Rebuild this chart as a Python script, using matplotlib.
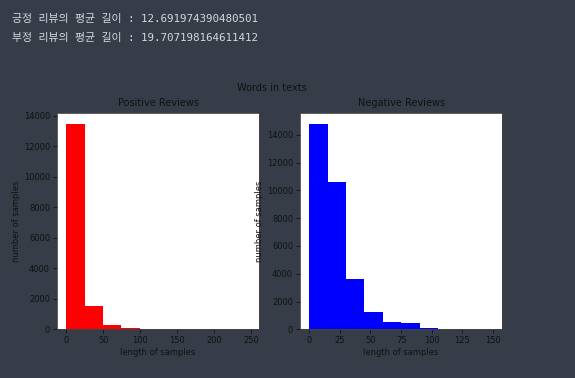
import numpy as np
import matplotlib
matplotlib.use("Agg")
import matplotlib.pyplot as plt

# printed notebook output above the chart
pos_mean = "12.691974390480501"
neg_mean = "19.707198164611412"

# histogram data (10 bins each)
pos_range = (0, 248)
pos_counts = [13500, 1550, 300, 100, 30, 12, 6, 3, 2, 1]
neg_range = (0, 150)
neg_counts = [14800, 10600, 3600, 1250, 520, 450, 100, 20, 5, 2]

bg = "#363d49"
txt = "#d3d8df"

fig = plt.figure(figsize=(5.75, 3.78), dpi=100)
fig.patch.set_facecolor(bg)

mono = ["DejaVu Sans Mono", "Noto Sans CJK KR"]
fig.text(12 / 575, 1 - 19 / 378, "긍정 리뷰의 평균 길이 : " + pos_mean,
         family=mono, fontsize=7.85, color=txt, va="center")
fig.text(12 / 575, 1 - 38 / 378, "부정 리뷰의 평균 길이 : " + neg_mean,
         family=mono, fontsize=7.85, color=txt, va="center")

fig.text(272 / 575, 1 - 88 / 378, "Words in texts", fontsize=7, color="#111111",
         ha="center", va="center")

ax1 = fig.add_axes([57 / 575, 48.7 / 378, 202 / 575, 216 / 378])
ax2 = fig.add_axes([300 / 575, 48.7 / 378, 202.3 / 575, 216 / 378])

for ax, rng, counts, col, title in [
    (ax1, pos_range, pos_counts, "red", "Positive Reviews"),
    (ax2, neg_range, neg_counts, "blue", "Negative Reviews"),
]:
    edges = np.linspace(rng[0], rng[1], len(counts) + 1)
    centers = (edges[:-1] + edges[1:]) / 2
    ax.hist(centers, bins=edges, weights=counts, color=col)
    ax.set_facecolor("white")
    ax.set_title(title, fontsize=7, color="#111111", pad=5)
    ax.set_xlabel("length of samples", fontsize=6, color="#111111", labelpad=2)
    ax.set_ylabel("number of samples", fontsize=6, color="#111111", labelpad=2)
    ax.tick_params(labelsize=6, colors="#111111", length=3, width=0.6, pad=2)
    for s in ax.spines.values():
        s.set_linewidth(0.6)
        s.set_color("#444444")

ax1.set_xticks([0, 50, 100, 150, 200, 250])
ax2.set_xticks([0, 25, 50, 75, 100, 125, 150])

fig.savefig("out.png", dpi=100, facecolor=bg)
